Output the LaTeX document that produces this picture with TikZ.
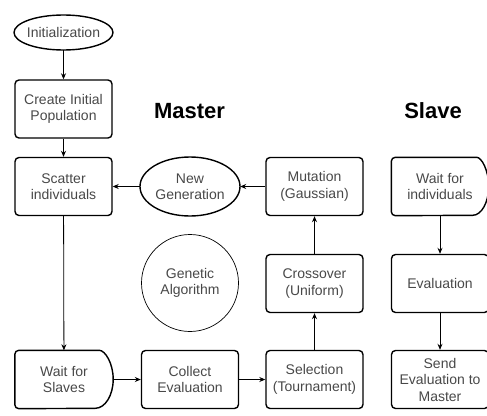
\documentclass[tikz,border=0pt]{standalone}
\usepackage{fontspec}
\setmainfont{Liberation Sans}
\usetikzlibrary{arrows.meta,calc}
\definecolor{txt}{HTML}{484848}
\tikzset{
 base/.style={inner sep=0pt, align=center, text=txt, font=\fontsize{14}{16.5}\selectfont},
 box/.style={base, draw, line width=1.4pt, rounded corners=4pt, minimum width=97pt, minimum height=58pt},
 ovalspot/.style={base, minimum width=#1},
 delayspot/.style={base, minimum width=98pt, minimum height=58pt},
 shapeline/.style={line width=1.4pt},
 ring/.style={base, draw, circle, line width=0.7pt, minimum size=97pt},
 conn/.style={line width=0.8pt, -{Stealth[length=6pt,width=5pt]}},
 heading/.style={font=\fontsize{22}{26}\selectfont\bfseries, text=black, inner sep=0pt, anchor=base},
}
\begin{document}
\begin{tikzpicture}[x=1pt,y=-1pt]
\useasboundingbox (0,0) rectangle (487,415);
% nodes
\node[ovalspot=99pt, minimum height=35pt] (init) at (63.5,32.5) {Initialization};
\draw[shapeline] (init.center) ellipse [x radius=49.5pt, y radius=17.5pt];
\node[box] (create) at (63.5,109) {Create Initial\\Population};
\node[box] (scatter) at (63.5,186.5) {Scatter\\individuals};
\node[delayspot] (ws) at (64,379.5) {Wait for\\Slaves};
\draw[shapeline] ([xshift=-18pt]ws.north east) arc[start angle=90, end angle=-90, x radius=18pt, y radius=29pt] [rounded corners=4pt] -- (ws.south west) -- (ws.north west) -- cycle;
\node[ovalspot=100pt, minimum height=59pt] (newgen) at (190,186.5) {New\\Generation};
\draw[shapeline] (newgen.center) ellipse [x radius=50pt, y radius=29.5pt];
\node[ring] (ga) at (190,283) {Genetic\\Algorithm};
\node[box] (collect) at (190,379.5) {Collect\\Evaluation};
\node[box] (mut) at (314.5,186.5) {Mutation\\(Gaussian)};
\node[box] (cross) at (314.5,283.5) {Crossover\\(Uniform)};
\node[box] (sel) at (314.5,379.5) {Selection\\(Tournament)};
\node[delayspot, minimum width=97pt] (wi) at (440,186.5) {Wait for\\individuals};
\draw[shapeline] ([xshift=-16pt]wi.north east) arc[start angle=90, end angle=-90, x radius=16pt, y radius=29pt] [rounded corners=4pt] -- (wi.south west) -- (wi.north west) -- cycle;
\node[box] (eval) at (440,283.5) {Evaluation};
\node[box] (send) at (440,379.5) {Send\\Evaluation to\\Master};
\node[heading] (master) at (189.5,118) {Master};
\node[heading] (slave) at (433,118) {Slave};
% connectors
\draw[conn] (init) -- (create);
\draw[conn] (create) -- (scatter);
\draw[conn] (scatter) -- (ws);
\draw[conn] (ws) -- (collect);
\draw[conn] (collect) -- (sel);
\draw[conn] (sel) -- (cross);
\draw[conn] (cross) -- (mut);
\draw[conn] (mut) -- (newgen);
\draw[conn] (newgen) -- (scatter);
\draw[conn] (wi) -- (eval);
\draw[conn] (eval) -- (send);
\end{tikzpicture}
\end{document}
